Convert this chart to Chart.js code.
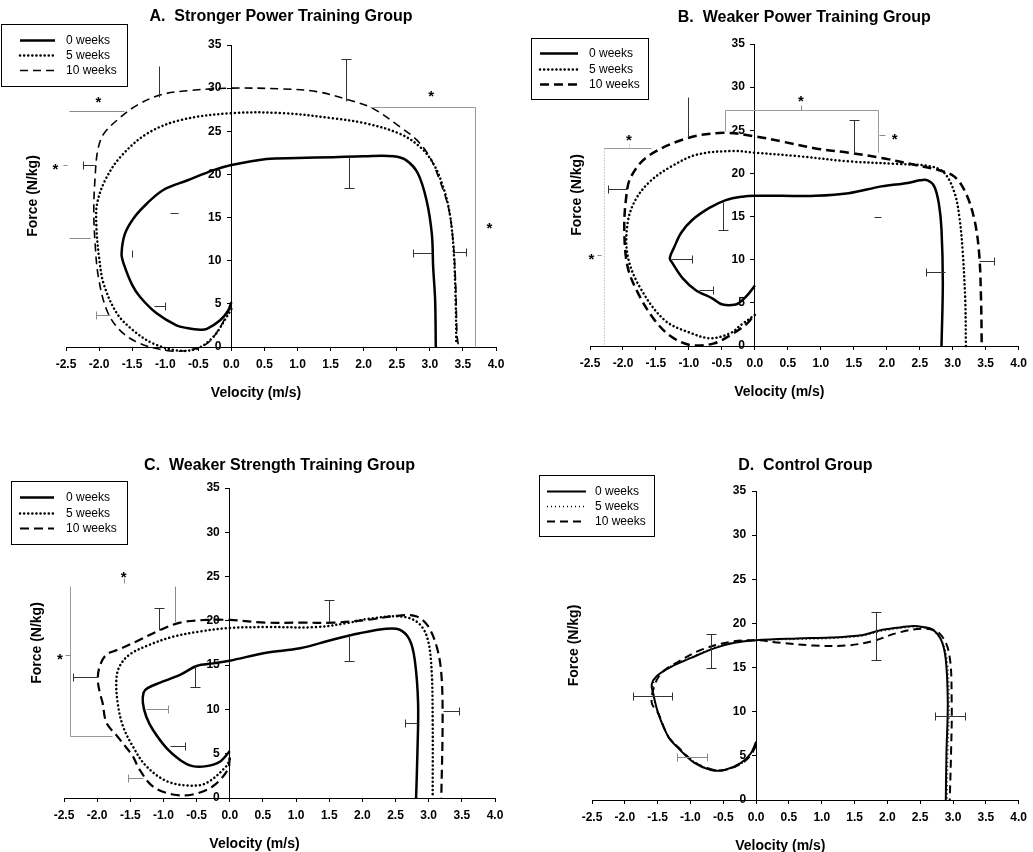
<!DOCTYPE html>
<html>
<head>
<meta charset="utf-8">
<title>Force-velocity loops</title>
<script src="https://cdn.jsdelivr.net/npm/chart.js@4.4.1/dist/chart.umd.min.js"></script>
<style>
  body { margin: 0; background: #fff; }
  #page { position: relative; width: 1033px; height: 852px; }
  .panel { position: absolute; }
</style>
</head>
<body>
<div id="page">
  <div class="panel" style="left:0;top:0;width:516px;height:420px"><canvas id="chartA"></canvas></div>
  <div class="panel" style="left:515px;top:0;width:518px;height:420px"><canvas id="chartB"></canvas></div>
  <div class="panel" style="left:0;top:420px;width:516px;height:432px"><canvas id="chartC"></canvas></div>
  <div class="panel" style="left:515px;top:420px;width:518px;height:432px"><canvas id="chartD"></canvas></div>
</div>
<script>
// axis ticks shared by all four panels
const velocityTicks = [-2.5, -2.0, -1.5, -1.0, -0.5, 0.0, 0.5, 1.0, 1.5, 2.0, 2.5, 3.0, 3.5, 4.0];
const forceTicks = [0, 5, 10, 15, 20, 25, 30, 35];
const weekLabels = ["0 weeks", "5 weeks", "10 weeks"];

// [velocity m/s, force N/kg] along each loop
const strongPow0 = [[0.00,5.2],[-0.05,4.2],[-0.17,3.1],[-0.37,2.1],[-0.47,2.0],[-0.67,2.2],[-0.83,2.5],[-1.13,3.9],[-1.38,5.8],[-1.50,7.2],[-1.63,9.7],[-1.66,10.8],[-1.61,13.1],[-1.48,14.9],[-1.28,16.6],[-1.03,18.2],[-0.67,19.3],[-0.27,20.5],[0.00,21.1],[0.53,21.8],[1.00,21.9],[1.54,22.0],[2.00,22.1],[2.45,22.1],[2.65,21.6],[2.82,20.1],[2.95,17.0],[3.03,13.1],[3.05,9.3],[3.08,5.4],[3.09,0.0]];
const strongPow5 = [[0.00,4.4],[-0.07,3.5],[-0.27,1.2],[-0.52,-0.2],[-0.82,-0.4],[-1.18,0.4],[-1.48,1.9],[-1.73,3.9],[-1.93,7.3],[-2.00,10.4],[-2.04,13.9],[-2.03,16.6],[-1.91,19.3],[-1.68,22.0],[-1.28,24.7],[-0.77,26.3],[0.00,27.1],[0.79,27.1],[1.54,26.5],[2.04,25.9],[2.55,24.7],[2.85,23.2],[3.05,21.3],[3.20,18.6],[3.30,15.5],[3.36,11.2],[3.39,5.4],[3.40,0.3]];
const strongPow10 = [[-0.02,4.6],[-0.17,2.3],[-0.37,0.4],[-0.67,-0.4],[-0.98,-0.4],[-1.38,0.4],[-1.68,1.9],[-1.88,4.2],[-2.01,8.1],[-2.06,12.0],[-2.08,15.8],[-2.06,19.7],[-2.02,22.8],[-1.93,24.7],[-1.68,26.6],[-1.43,28.0],[-1.08,29.2],[-0.67,29.7],[0.00,30.0],[0.79,29.9],[1.29,29.6],[1.79,28.6],[2.15,27.6],[2.55,25.5],[2.80,24.0],[3.00,22.0],[3.15,19.3],[3.28,16.2],[3.35,12.4],[3.39,7.3],[3.41,1.5],[3.43,0.2]];

const weakPow0 = [[0.00,7.0],[-0.09,6.1],[-0.19,5.3],[-0.29,4.8],[-0.49,4.8],[-0.64,5.5],[-0.90,6.5],[-1.10,7.9],[-1.25,9.6],[-1.29,10.2],[-1.22,11.5],[-1.12,13.1],[-0.95,14.6],[-0.69,16.0],[-0.44,16.9],[-0.19,17.3],[0.00,17.4],[0.41,17.4],[0.92,17.4],[1.42,17.7],[1.92,18.5],[2.32,18.9],[2.50,19.2],[2.62,19.2],[2.72,18.5],[2.79,16.5],[2.83,13.5],[2.85,7.3],[2.83,0.0]];
const weakPow5 = [[0.00,3.6],[-0.20,2.5],[-0.37,1.5],[-0.67,0.9],[-0.97,1.5],[-1.37,3.0],[-1.75,6.9],[-1.93,10.5],[-1.93,14.2],[-1.82,16.8],[-1.60,19.0],[-1.27,20.8],[-0.87,22.2],[-0.32,22.6],[0.00,22.4],[0.66,22.0],[1.42,21.4],[2.17,21.1],[2.68,20.8],[2.88,20.0],[3.03,17.7],[3.10,15.0],[3.15,11.1],[3.19,5.3],[3.20,0.0]];
const weakPow10 = [[-0.05,3.2],[-0.12,2.6],[-0.32,1.5],[-0.62,0.3],[-0.97,0.1],[-1.27,1.1],[-1.52,3.0],[-1.77,6.1],[-1.93,9.2],[-1.98,13.5],[-1.95,17.3],[-1.88,19.6],[-1.62,22.0],[-1.02,24.1],[-0.47,24.7],[0.00,24.3],[0.41,23.7],[0.92,22.9],[1.42,22.4],[1.92,21.8],[2.42,21.0],[2.78,20.4],[3.03,19.6],[3.20,17.7],[3.33,14.6],[3.40,10.8],[3.43,5.3],[3.44,0.0]];

const weakStr0 = [[0.00,5.3],[-0.15,4.1],[-0.35,3.6],[-0.56,3.6],[-0.75,4.3],[-0.95,5.6],[-1.16,7.7],[-1.26,9.2],[-1.31,10.7],[-1.30,11.9],[-1.24,12.4],[-1.06,13.0],[-0.75,13.9],[-0.50,14.9],[-0.25,15.2],[0.00,15.5],[0.55,16.4],[1.06,16.9],[1.56,17.9],[1.96,18.6],[2.36,19.1],[2.56,19.0],[2.71,17.9],[2.79,15.6],[2.84,10.7],[2.83,5.1],[2.81,0.0]];
const weakStr5 = [[0.00,4.4],[-0.05,3.6],[-0.35,1.7],[-0.60,1.4],[-0.95,1.9],[-1.26,3.6],[-1.46,5.8],[-1.61,8.1],[-1.69,10.7],[-1.71,13.4],[-1.66,14.9],[-1.51,16.2],[-1.21,17.3],[-0.86,18.2],[-0.45,18.8],[0.00,19.2],[0.55,19.3],[1.31,19.3],[1.81,19.8],[2.06,20.2],[2.56,20.5],[2.82,19.9],[2.97,18.3],[3.04,14.9],[3.06,8.8],[3.06,0.0]];
const weakStr10 = [[0.00,4.6],[-0.03,3.2],[-0.26,1.3],[-0.56,0.4],[-0.86,0.4],[-1.16,1.3],[-1.36,3.2],[-1.46,4.7],[-1.54,5.5],[-1.70,7.0],[-1.86,8.5],[-1.92,10.8],[-1.96,11.9],[-1.99,13.4],[-1.96,14.9],[-1.86,16.2],[-1.70,16.7],[-1.40,17.7],[-1.10,18.8],[-0.75,19.8],[-0.35,20.1],[0.00,20.1],[0.55,19.8],[1.06,19.8],[1.56,19.8],[2.06,20.1],[2.56,20.6],[2.82,20.5],[2.99,19.4],[3.12,17.1],[3.19,14.1],[3.21,8.8],[3.19,0.0]];

const control0 = [[0.00,6.6],[-0.08,5.3],[-0.23,4.2],[-0.48,3.4],[-0.69,3.4],[-0.94,4.2],[-1.19,5.9],[-1.34,7.2],[-1.49,9.8],[-1.57,12.1],[-1.59,13.1],[-1.52,14.0],[-1.29,15.1],[-0.99,16.1],[-0.63,17.2],[-0.33,17.8],[0.00,18.1],[0.62,18.3],[1.13,18.4],[1.63,18.7],[1.88,19.2],[2.14,19.5],[2.39,19.7],[2.54,19.6],[2.69,19.3],[2.82,18.1],[2.89,15.9],[2.92,11.0],[2.90,5.3],[2.89,0.0]];
const control5 = [[0.00,6.4],[-0.08,5.2],[-0.23,4.1],[-0.48,3.4],[-0.69,3.5],[-0.94,4.3],[-1.19,6.0],[-1.34,7.3],[-1.49,9.9],[-1.56,12.0],[-1.57,13.0],[-1.50,14.1],[-1.28,15.2],[-0.98,16.2],[-0.62,17.3],[-0.32,17.9],[0.00,18.1],[0.62,18.2],[1.13,18.3],[1.63,18.6],[1.88,19.1],[2.14,19.4],[2.39,19.6],[2.54,19.5],[2.69,19.2],[2.83,18.0],[2.91,15.8],[2.94,11.0],[2.92,5.3],[2.91,0.0]];
const control10 = [[0.00,6.2],[-0.08,5.1],[-0.23,4.1],[-0.48,3.4],[-0.69,3.5],[-0.94,4.3],[-1.19,6.0],[-1.34,7.2],[-1.49,9.8],[-1.59,11.0],[-1.55,12.9],[-1.44,14.4],[-1.20,15.6],[-0.84,17.0],[-0.40,17.9],[0.00,18.1],[0.37,17.8],[0.88,17.5],[1.38,17.5],[1.78,18.0],[2.14,18.9],[2.54,19.4],[2.79,18.9],[2.94,16.6],[2.98,11.0],[2.97,5.3],[2.95,0.0]];

// SD bars: [x1, y1, x2, y2, caps] (0 = none, 1 = at end, 2 = both ends)
const strongPowSD = [[1.73,28.5,1.73,33.4,1],[1.78,22.0,1.78,18.4,1],[3.04,10.9,2.75,10.9,1],[3.36,11.0,3.54,11.0,1],[-2.06,21.1,-2.25,21.1,1],[-1.17,4.8,-1.00,4.8,1],[-1.09,29.0,-1.09,32.6,0],[-1.50,10.4,-1.50,11.2,0],[-0.93,15.5,-0.80,15.5,0]];
const strongPowSDLight = [[-1.83,3.7,-2.05,3.7,1],[-2.13,12.6,-2.46,12.6,0],[-1.63,27.4,-2.46,27.4,0],[-2.54,21.1,-2.48,21.1,0]];
const strongPowBrackets = [[[2.09,27.8],[3.68,27.8],[3.68,0]]];
const strongPowStars = [[-2.01,28.9],[3.02,29.5],[3.90,14.2],[-2.66,21.1]];

const weakPowSD = [[1.50,22.4,1.50,26.2,1],[-1.94,18.2,-2.23,18.2,1],[-0.48,16.7,-0.48,13.5,1],[-1.27,10.1,-0.96,10.1,1],[-0.85,6.5,-0.63,6.5,1],[2.88,8.6,2.59,8.6,1],[3.40,9.9,3.62,9.9,1],[-1.02,24.3,-1.02,28.9,0],[1.80,14.9,1.92,14.9,0]];
const weakPowSDLight = [[1.88,24.5,1.97,24.5,0],[-2.40,10.6,-2.33,10.6,0],[0.70,27.3,0.70,27.9,0]];
const weakPowBrackets = [[[-0.45,24.9],[-0.45,27.3],[1.87,27.3],[1.87,22.5]],[[-1.57,22.9],[-2.29,22.9]]];
const weakPowDotted = [[[-2.29,22.9],[-2.29,0]],[[-1.91,22.9],[-1.91,23.7]]];
const weakPowStars = [[0.70,28.9],[2.12,24.5],[-1.91,24.3],[-2.48,10.6]];

const weakStrSD = [[-1.07,19.0,-1.07,21.5,1],[-2.00,13.7,-2.36,13.7,1],[-0.52,14.9,-0.52,12.5,1],[-0.90,5.9,-0.68,5.9,1],[1.50,19.9,1.50,22.3,1],[1.80,18.3,1.80,15.5,1],[2.82,8.5,2.64,8.5,1],[3.22,9.8,3.46,9.8,1]];
const weakStrSDLight = [[-1.26,10.0,-0.93,10.0,1],[-1.31,2.3,-1.54,2.3,1],[-0.82,19.9,-0.82,23.9,0],[-2.48,16.1,-2.41,16.1,0],[-1.60,24.3,-1.60,24.8,0]];
const weakStrBrackets = [[[-2.41,23.9],[-2.41,7.0],[-1.78,7.0]]];
const weakStrStars = [[-2.56,16.1],[-1.60,25.4]];

const controlSD = [[-0.69,15.0,-0.69,18.8,2],[-1.87,11.8,-1.28,11.8,2],[1.83,15.9,1.83,21.3,2],[2.73,9.5,3.18,9.5,2]];
const controlSDLight = [[-1.21,4.9,-0.75,4.9,2]];

Chart.defaults.font.family = '"Liberation Sans", Arial, sans-serif';
Chart.defaults.color = "#000";

const toXY = (pts) => pts.map(([x, y]) => ({ x: x, y: y }));

// draws SD bars, brackets, asterisks, axis titles and the boxed legend
const annotations = {
  id: "annotations",
  afterDatasetsDraw(chart, args, o) {
    const { ctx, chartArea } = chart;
    const sx = chart.scales.x, sy = chart.scales.y;
    const px = (v) => sx.getPixelForValue(v);
    const py = (v) => sy.getPixelForValue(v);
    ctx.save();

    const polyline = (pts, color, dash) => {
      ctx.strokeStyle = color;
      ctx.lineWidth = 1;
      ctx.setLineDash(dash || []);
      ctx.beginPath();
      pts.forEach(([x, y], i) => {
        const X = Math.round(px(x)) + 0.5, Y = Math.round(py(y)) + 0.5;
        i ? ctx.lineTo(X, Y) : ctx.moveTo(X, Y);
      });
      ctx.stroke();
      ctx.setLineDash([]);
    };
    const sdBar = ([x1, y1, x2, y2, caps], color) => {
      polyline([[x1, y1], [x2, y2]], color);
      const vertical = x1 === x2;
      const cap = (x, y) => {
        const X = Math.round(px(x)) + 0.5, Y = Math.round(py(y)) + 0.5;
        ctx.beginPath();
        if (vertical) { ctx.moveTo(X - 5, Y); ctx.lineTo(X + 5, Y); }
        else { ctx.moveTo(X, Y - 4); ctx.lineTo(X, Y + 4); }
        ctx.stroke();
      };
      if (caps >= 1) cap(x2, y2);
      if (caps === 2) cap(x1, y1);
    };

    (o.brackets || []).forEach((b) => polyline(b, "#9a9a9a"));
    (o.dotted || []).forEach((b) => polyline(b, "#9a9a9a", [1, 2]));
    (o.light || []).forEach((b) => sdBar(b, "#8a8a8a"));
    (o.bars || []).forEach((b) => sdBar(b, "#333"));

    ctx.fillStyle = "#000";
    ctx.font = "bold 15px " + Chart.defaults.font.family;
    ctx.textAlign = "center";
    ctx.textBaseline = "alphabetic";
    (o.stars || []).forEach(([x, y]) => ctx.fillText("*", px(x), py(y) + 9));

    // axis titles
    ctx.font = "bold 14px " + Chart.defaults.font.family;
    ctx.textBaseline = "middle";
    ctx.fillText("Velocity (m/s)", (chartArea.left + chartArea.right) / 2 - 25, chartArea.bottom + 46);
    ctx.save();
    ctx.translate(o.yTitleX, (chartArea.top + chartArea.bottom) / 2);
    ctx.rotate(-Math.PI / 2);
    ctx.fillText("Force (N/kg)", 0, 0);
    ctx.restore();

    // legend box
    const L = o.legend;
    ctx.strokeStyle = "#000";
    ctx.lineWidth = 1;
    ctx.strokeRect(L.x + 0.5, L.y + 0.5, L.w, L.h);
    ctx.font = "12px " + Chart.defaults.font.family;
    ctx.textAlign = "left";
    chart.data.datasets.forEach((ds, i) => {
      const y = L.y + L.rows[i] + 0.5;
      ctx.strokeStyle = ds.borderColor;
      ctx.lineWidth = ds.borderWidth;
      ctx.lineCap = ds.borderCapStyle || "butt";
      ctx.setLineDash(ds.borderDash || []);
      ctx.beginPath();
      ctx.moveTo(L.x + L.line[0], y);
      ctx.lineTo(L.x + L.line[1], y);
      ctx.stroke();
      ctx.setLineDash([]);
      ctx.fillStyle = "#000";
      ctx.fillText(ds.label, L.x + L.text, y);
    });
    ctx.restore();
  },
};

function makePanel(id, title, series, styles, layout, notes) {
  const datasets = series.map((pts, i) => Object.assign({
    label: weekLabels[i],
    data: toXY(pts),
    showLine: true,
    borderColor: "#000",
    pointRadius: 0,
    tension: 0.35,
    clip: false,
  }, styles[i]));

  return new Chart(document.getElementById(id), {
    type: "scatter",
    data: { datasets: datasets },
    options: {
      responsive: true,
      maintainAspectRatio: false,
      animation: false,
      layout: { padding: layout.padding },
      scales: {
        x: {
          type: "linear",
          position: "bottom",
          min: -2.5,
          max: 4.0,
          afterBuildTicks: (scale) => { scale.ticks = velocityTicks.map((v) => ({ value: v })); },
          ticks: {
            font: { size: 12, weight: "bold" },
            padding: 6,
            maxRotation: 0,
            autoSkip: false,
            callback: (v) => Number(v).toFixed(1),
          },
          grid: { display: true, drawOnChartArea: false, color: "#000", tickLength: 4 },
          border: { color: "#000", width: 1 },
        },
        y: {
          type: "linear",
          position: { x: 0 },
          min: 0,
          max: 35,
          afterBuildTicks: (scale) => { scale.ticks = forceTicks.map((v) => ({ value: v })); },
          // labels of a value-positioned axis end right at the axis line; the trailing spaces keep them clear of the ticks
          ticks: { font: { size: 12, weight: "bold" }, callback: (v) => v + "   " },
          grid: { display: true, drawOnChartArea: false, color: "#000", tickLength: 4 },
          border: { color: "#000", width: 1 },
        },
      },
      plugins: {
        legend: { display: false },
        tooltip: { enabled: false },
        title: {
          display: true,
          text: title,
          fullSize: false,
          color: "#000",
          font: { size: 16, weight: "bold" },
          padding: layout.titlePad,
        },
        annotations: Object.assign({ yTitleX: layout.yTitleX, legend: layout.legend }, notes),
      },
    },
    plugins: [annotations],
  });
}

const dottedStyle = { borderWidth: 2.5, borderDash: [0.1, 4], borderCapStyle: "round" };

makePanel("chartA", "A.  Stronger Power Training Group",
  [strongPow0, strongPow5, strongPow10],
  [{ borderWidth: 2.5 }, dottedStyle, { borderWidth: 1.6, borderDash: [8, 5] }],
  {
    padding: { left: 66, right: 20, top: 0, bottom: 42.6 },
    titlePad: { top: 7.4, bottom: 18.4 },
    yTitleX: 33,
    legend: { x: 1, y: 24, w: 126, h: 62, line: [19, 54], text: 65, rows: [16, 31, 46] },
  },
  { bars: strongPowSD, light: strongPowSDLight, brackets: strongPowBrackets, stars: strongPowStars });

makePanel("chartB", "B.  Weaker Power Training Group",
  [weakPow0, weakPow5, weakPow10],
  [{ borderWidth: 2.5 }, dottedStyle, { borderWidth: 2.5, borderDash: [9, 5] }],
  {
    padding: { left: 75, right: 12, top: 0, bottom: 43.6 },
    titlePad: { top: 8.4, bottom: 16.4 },
    yTitleX: 62,
    legend: { x: 16, y: 38, w: 117, h: 61, line: [9, 47], text: 58, rows: [15, 31, 46] },
  },
  { bars: weakPowSD, light: weakPowSDLight, brackets: weakPowBrackets, dotted: weakPowDotted, stars: weakPowStars });

makePanel("chartC", "C.  Weaker Strength Training Group",
  [weakStr0, weakStr5, weakStr10],
  [{ borderWidth: 2.5 }, dottedStyle, { borderWidth: 2.2, borderDash: [9, 5] }],
  {
    padding: { left: 64, right: 21, top: 0, bottom: 23.6 },
    titlePad: { top: 36.4, bottom: 12.4 },
    yTitleX: 37,
    legend: { x: 11, y: 61, w: 116, h: 63, line: [9, 43], text: 55, rows: [16, 32, 47] },
  },
  { bars: weakStrSD, light: weakStrSDLight, brackets: weakStrBrackets, stars: weakStrStars });

makePanel("chartD", "D.  Control Group",
  [control0, control5, control10],
  [{ borderWidth: 2 }, { borderWidth: 1.5, borderDash: [1, 3] }, { borderWidth: 2, borderDash: [8, 5] }],
  {
    padding: { left: 77, right: 11, top: 0, bottom: 21.6 },
    titlePad: { top: 36.4, bottom: 15.4 },
    yTitleX: 59,
    legend: { x: 24, y: 55, w: 115, h: 61, line: [8, 47], text: 56, rows: [16, 31, 46] },
  },
  { bars: controlSD, light: controlSDLight });
</script>
</body>
</html>
